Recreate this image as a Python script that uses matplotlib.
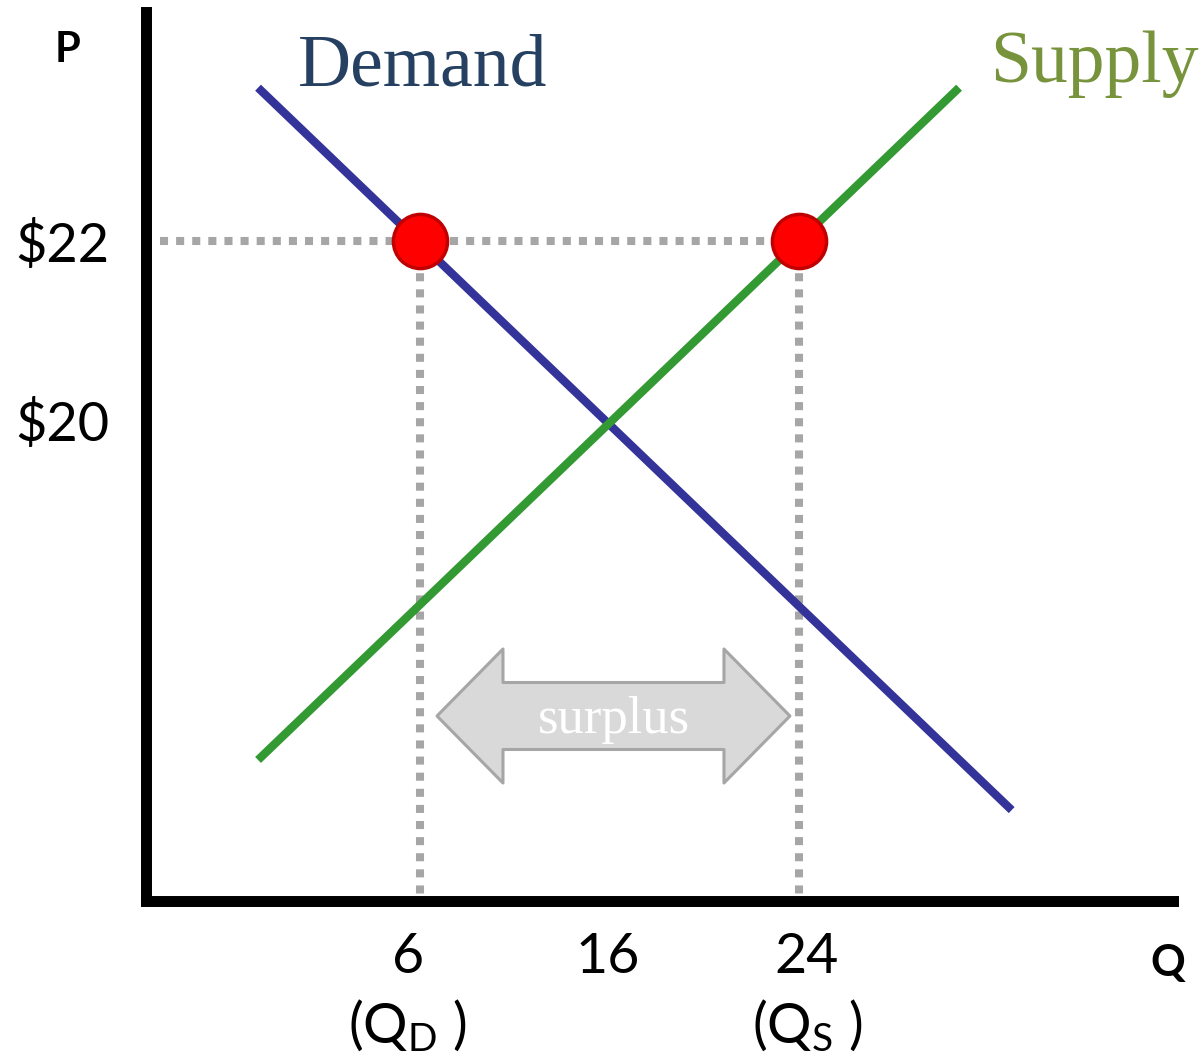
import numpy as np
import matplotlib
matplotlib.use("Agg")
import matplotlib.pyplot as plt
from matplotlib.patches import Polygon
from matplotlib.transforms import IdentityTransform, ScaledTranslation

### Data
price_ticks = [20, 22]
price_labels = [r"\$20", r"\$22"]
q_ticks = [6, 16, 24]
q_labels = ["6\n(Q$_\\mathrm{D}$ )", "16", "24\n(Q$_\\mathrm{S}$ )"]

demand_q = [2.46, 32.9]
demand_p = [23.71, 15.64]
supply_q = [2.46, 30.7]
supply_p = [16.2, 23.71]

price_floor = 22
q_demanded = 6
q_supplied = 24

### Fonts
plt.rcParams["font.family"] = ["Lato", "DejaVu Sans"]
plt.rcParams["mathtext.fontset"] = "custom"
plt.rcParams["mathtext.rm"] = "Lato"
plt.rcParams["mathtext.it"] = "Lato:italic"

### Schematic quantity axis (the drawing is not to scale, spacing differs per segment)
Q_NODES = np.array([0.0, 6.0, 16.0, 24.0, 40.0])
X_NODES = np.array([0.0, 274.5, 462.5, 653.5, 1035.9])


def q_forward(q):
    q = np.asarray(q, dtype=float)
    s0 = (X_NODES[1] - X_NODES[0]) / (Q_NODES[1] - Q_NODES[0])
    s1 = (X_NODES[-1] - X_NODES[-2]) / (Q_NODES[-1] - Q_NODES[-2])
    out = np.interp(q, Q_NODES, X_NODES)
    out = np.where(q < Q_NODES[0], X_NODES[0] + (q - Q_NODES[0]) * s0, out)
    out = np.where(q > Q_NODES[-1], X_NODES[-1] + (q - Q_NODES[-1]) * s1, out)
    return out


def q_inverse(x):
    x = np.asarray(x, dtype=float)
    s0 = (X_NODES[1] - X_NODES[0]) / (Q_NODES[1] - Q_NODES[0])
    s1 = (X_NODES[-1] - X_NODES[-2]) / (Q_NODES[-1] - Q_NODES[-2])
    out = np.interp(x, X_NODES, Q_NODES)
    out = np.where(x < X_NODES[0], Q_NODES[0] + (x - X_NODES[0]) / s0, out)
    out = np.where(x > X_NODES[-1], Q_NODES[-1] + (x - X_NODES[-1]) / s1, out)
    return out


W, H = 1202, 1061
fig = plt.figure(figsize=(W / 100, H / 100), dpi=100)
left, right, top, bottom = 145.5, 1172.5, 12.5, 900.5
ax = fig.add_axes([left / W, 1 - bottom / H, (right - left) / W, (bottom - top) / H])
ax.set_xscale("function", functions=(q_forward, q_inverse))
ax.set_xlim(0, 39.63)
ax.set_ylim(14.63, 24.55)

for side in ["top", "right"]:
    ax.spines[side].set_visible(False)
for side in ["left", "bottom"]:
    ax.spines[side].set_linewidth(7.9)
    ax.spines[side].set_color("black")
    ax.spines[side].set_capstyle("projecting")

ax.set_yticks(price_ticks, price_labels, fontsize=39)
ax.set_xticks(q_ticks, q_labels, fontsize=40, linespacing=1.3)
ax.tick_params(axis="y", length=0, pad=26)
ax.tick_params(axis="x", length=0, pad=23)
ax.minorticks_off()
# labels under the axis sit a little off the guide lines in the original
for lab, dx in zip(ax.get_xticklabels(), [-12, 0, 8]):
    lab.set_transform(lab.get_transform() + ScaledTranslation(dx / 100, 0, fig.dpi_scale_trans))

# dotted guides
dot_kw = dict(color="#a6a6a6", lw=5.8, linestyle=(0, (1, 1)), dash_capstyle="butt", zorder=3)
ax.plot([0.32, q_supplied], [price_floor, price_floor], **dot_kw)
ax.plot([q_demanded, q_demanded], [price_floor, 14.63], **dot_kw)
ax.plot([q_supplied, q_supplied], [price_floor, 14.63], **dot_kw)

# curves
ax.plot(demand_q, demand_p, color="#333399", lw=6, solid_capstyle="butt", zorder=4)
ax.plot(supply_q, supply_p, color="#339933", lw=6, solid_capstyle="butt", zorder=4)

# price floor points
ax.plot([q_demanded, q_supplied], [price_floor, price_floor], "o", ms=39,
        mfc="#ff0000", mec="#c00000", mew=2.5, zorder=5)

# surplus arrow (display coords)
xl = ax.transData.transform((q_demanded, 0))[0] + 17
xr = ax.transData.transform((q_supplied, 0))[0] - 9
yc = H - 716
hl, hh, bh = 66, 67, 33.5
pts = [(xl, yc), (xl + hl, yc + hh), (xl + hl, yc + bh), (xr - hl, yc + bh), (xr - hl, yc + hh),
       (xr, yc), (xr - hl, yc - hh), (xr - hl, yc - bh), (xl + hl, yc - bh), (xl + hl, yc - hh)]
arrow = Polygon(pts, closed=True, fc="#d9d9d9", ec="#a6a6a6", lw=2.2, joinstyle="round",
                transform=IdentityTransform(), zorder=3)
ax.add_patch(arrow)
ax.text((xl + xr) / 2, H - 733, "surplus", transform=IdentityTransform(), ha="center", va="baseline",
        color="white", fontsize=38, family="Liberation Serif", zorder=6)

# labels
fig.text(298 / W, 1 - 85 / H, "Demand", ha="left", va="baseline", color="#254061",
         fontsize=53, family="Liberation Serif")
fig.text(990 / W, 1 - 82 / H, "Supply", ha="left", va="baseline", color="#77933c",
         fontsize=53, family="Liberation Serif")
fig.text(68 / W, 1 - 50 / H, "P", ha="center", va="center", fontsize=30, fontweight="bold")
fig.text(1168 / W, 1 - 963 / H, "Q", ha="center", va="center", fontsize=31, fontweight="bold")

fig.savefig("out.png", dpi=100)
